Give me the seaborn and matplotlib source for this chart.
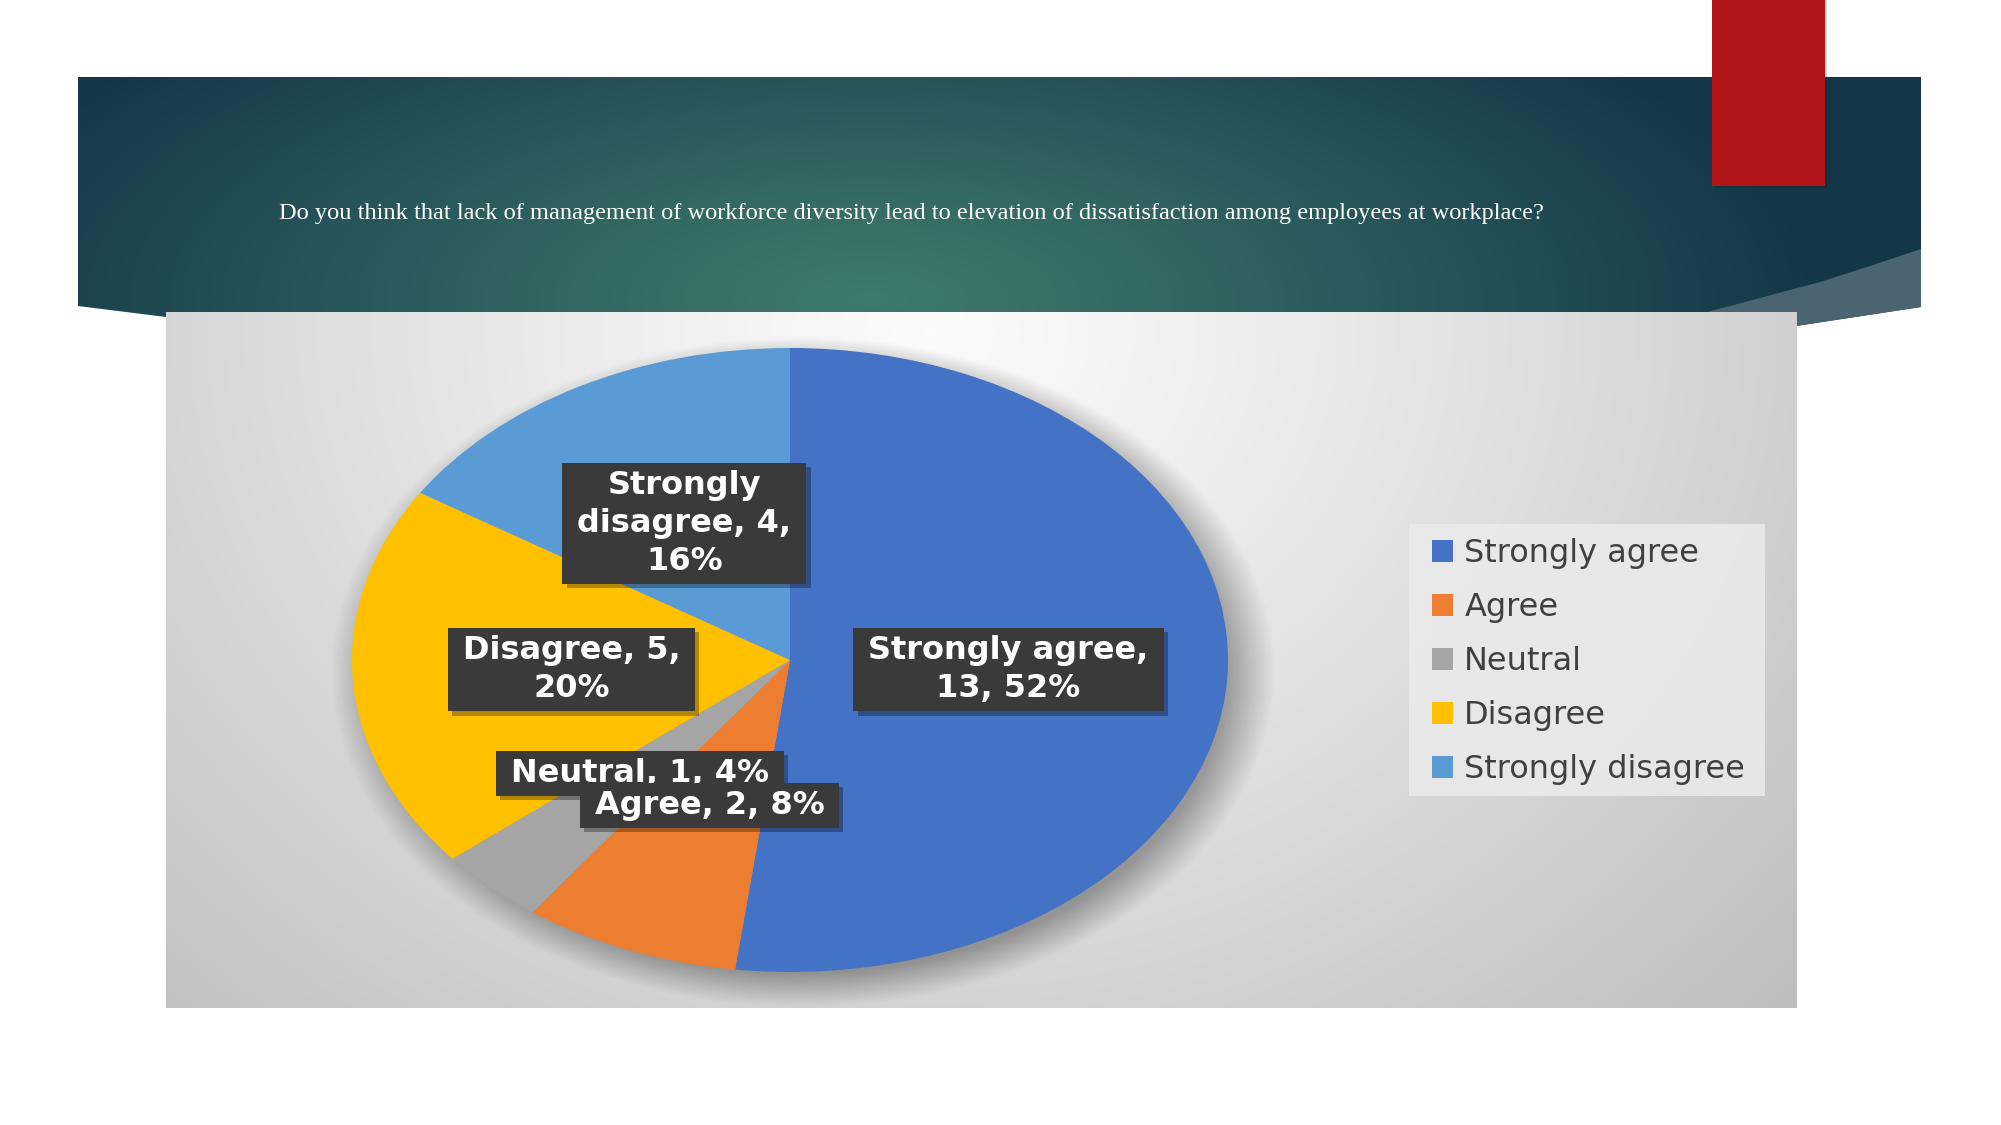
import numpy as np
import pandas as pd
import matplotlib
matplotlib.use("Agg")
import matplotlib.pyplot as plt
import seaborn as sns
from matplotlib.patches import Polygon, Rectangle
import matplotlib.patheffects as pe

# ---------------- data ----------------
categories = ["Strongly agree", "Agree", "Neutral", "Disagree", "Strongly disagree"]
counts = [13, 2, 1, 5, 4]
percents = [52, 8, 4, 20, 16]
label_texts = ["Strongly agree,\n13, 52%", "Agree, 2, 8%", "Neutral, 1, 4%",
               "Disagree, 5,\n20%", "Strongly\ndisagree, 4,\n16%"]
colors = ["#4472C4", "#ED7D31", "#A5A5A5", "#FFC000", "#5B9BD5"]
title = ("Do you think that lack of management of workforce diversity lead to "
         "elevation of dissatisfaction among employees at workplace?")

df = pd.DataFrame({"category": categories, "count": counts, "pct": percents,
                   "label": label_texts})

sns.set_theme(style="white")
plt.rcParams['font.family'] = ['DejaVu Sans']

W, H = 2001, 1125
fig = plt.figure(figsize=(W / 100, H / 100), dpi=100)
fig.patch.set_facecolor('white')

# ---------------- slide background (pixel coords) ----------------
bg = fig.add_axes([0, 0, 1, 1])
bg.set_xlim(0, W)
bg.set_ylim(H, 0)
bg.axis('off')

gx = np.linspace(78, 1921, 400)
gy = np.linspace(77, 330, 120)
GX, GY = np.meshgrid(gx, gy)
d = np.sqrt(((GX - 870) / 950) ** 2 + ((GY - 300) / 380) ** 2)
t = np.clip(d, 0, 1) ** 1.1
c_center = np.array([62, 122, 109]) / 255
c_edge = np.array([20, 55, 72]) / 255
img = c_center[None, None, :] * (1 - t[..., None]) + c_edge[None, None, :] * t[..., None]
banner_pts = [(78, 77), (1921, 77), (1921, 307), (1796, 326), (166, 326), (166, 317), (78, 306)]
banner_poly = Polygon(banner_pts, closed=True, facecolor='none', edgecolor='none',
                      transform=bg.transData)
bg.add_patch(banner_poly)
im = bg.imshow(img, extent=(78, 1921, 330, 77), origin='upper', interpolation='bilinear',
               aspect='auto', zorder=1)
im.set_clip_path(banner_poly)

wedge_pts = [(1700, 314), (1760, 298), (1820, 282), (1870, 266), (1921, 249),
             (1921, 307), (1796, 326), (1796, 314)]
bg.add_patch(Polygon(wedge_pts, closed=True, facecolor='#4a6571', edgecolor='none', zorder=2))

bg.add_patch(Rectangle((1714, 0), 113, 188, facecolor='#000000', alpha=0.15,
                       edgecolor='none', zorder=3))
bg.add_patch(Rectangle((1712, 0), 113, 186, facecolor='#B01518', edgecolor='none', zorder=4))

bg.text(279, 214, title, color='white', fontsize=17.6, family=['Liberation Serif'],
        va='center', ha='left', zorder=5)

# ---------------- chart panel ----------------
PL, PR, PT, PB = 166, 1796, 312, 1008
panel = fig.add_axes([PL / W, 1 - PB / H, (PR - PL) / W, (PB - PT) / H])
panel.set_xlim(PL, PR)
panel.set_ylim(PB, PT)
panel.axis('off')

px = np.linspace(PL, PR, 400)
py = np.linspace(PT, PB, 200)
PX, PY = np.meshgrid(px, py)
dd = np.sqrt(((PX - 930) / 1000) ** 2 + ((PY - 330) / 850) ** 2)
g = 0.985 - 0.20 * np.clip(dd, 0, 1.2) ** 1.15
panel.imshow(np.dstack([g, g, g]), extent=(PL, PR, PB, PT), origin='upper',
             interpolation='bilinear', aspect='auto', zorder=1)

# soft pie shadow
cx, cy, rx, ry = 790, 660, 438, 312
ds = np.sqrt(((PX - (cx + 12)) / rx) ** 2 + ((PY - (cy + 12)) / ry) ** 2)
alpha = 0.32 * np.clip((1.08 - ds) / 0.11, 0, 1)
shadow = np.zeros(PX.shape + (4,))
shadow[..., 3] = alpha
panel.imshow(shadow, extent=(PL, PR, PB, PT), origin='upper', interpolation='bilinear',
             aspect='auto', zorder=2)

# legend background box
panel.add_patch(Rectangle((1409, 524), 356, 272, facecolor='#ebebeb', alpha=0.85,
                          edgecolor='none', zorder=3))

# ---------------- pie ----------------
ax = fig.add_axes([(cx - rx) / W, 1 - (cy + ry) / H, 2 * rx / W, 2 * ry / H])
wedges, texts = ax.pie(df["count"], labels=df["label"], colors=colors, startangle=90,
                       counterclock=False, labeldistance=0.5, radius=1,
                       wedgeprops=dict(linewidth=0),
                       textprops=dict(color='white', fontsize=23, fontweight='bold'))
ax.set_aspect('auto')
ax.set_xlim(-1, 1)
ax.set_ylim(-1, 1)
for tx in texts:
    tx.set_ha('center')
    tx.set_va('center')
    tx.set_multialignment('center')
    tx.set_linespacing(1.3)
texts[1].set_zorder(6)

# dark label boxes sized to the rendered text
fig.canvas.draw()
renderer = fig.canvas.get_renderer()
inv = ax.transData.inverted()
pad_x, pad_y = 15, 7
for tx in texts:
    bb = tx.get_window_extent(renderer)
    (x0, y0) = inv.transform((bb.x0 - pad_x, bb.y0 - pad_y))
    (x1, y1) = inv.transform((bb.x1 + pad_x, bb.y1 + pad_y))
    rect = Rectangle((x0, y0), x1 - x0, y1 - y0, facecolor='#3a3a3a', edgecolor='none',
                     zorder=tx.get_zorder() - 0.1)
    rect.set_path_effects([
        pe.SimplePatchShadow(offset=(3, -3), shadow_rgbFace='black', alpha=0.3),
        pe.Normal()])
    ax.add_patch(rect)

# ---------------- legend ----------------
leg = fig.legend(wedges, categories, loc='upper left',
                 bbox_to_anchor=(1418 / W, 1 - 524 / H), frameon=False,
                 fontsize=23, labelcolor='#404040', handlelength=0.65, handleheight=0.65,
                 handletextpad=0.35, labelspacing=0.72, borderpad=0.45, borderaxespad=0)

fig.savefig("out.png", dpi=100, facecolor='white')
